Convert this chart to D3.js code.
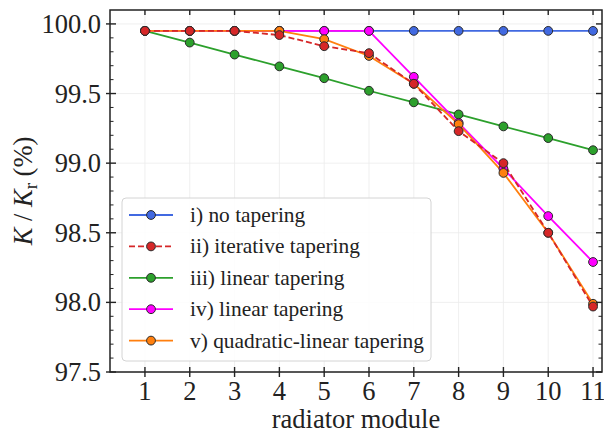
<!DOCTYPE html>
<html>
<head>
<meta charset="utf-8">
<script src="https://cdn.jsdelivr.net/npm/d3@7"></script>
<style>
  body { margin: 0; background: #fff; }
</style>
</head>
<body>
<div id="chart"></div>
<script>
// modules along the radiator
const modules = [1, 2, 3, 4, 5, 6, 7, 8, 9, 10, 11];

// K / Kr in percent
const noTaper        = [99.95, 99.95, 99.95, 99.95, 99.95, 99.95, 99.95, 99.95, 99.95, 99.95, 99.95];
const iterativeTaper = [99.95, 99.95, 99.95, 99.92, 99.84, 99.79, 99.57, 99.23, 99.00, 98.50, 97.97];
const linearTaper3   = [99.95, 99.866, 99.78, 99.695, 99.61, 99.52, 99.437, 99.35, 99.264, 99.18, 99.093];
const linearTaper4   = [99.95, 99.95, 99.95, 99.95, 99.95, 99.95, 99.62, 99.29, 98.96, 98.62, 98.29];
const quadLinTaper   = [99.95, 99.95, 99.95, 99.95, 99.89, 99.77, 99.57, 99.28, 98.93, 98.50, 97.99];

const seriesNames  = ["i) no tapering", "ii) iterative tapering", "iii) linear tapering", "iv) linear tapering", "v) quadratic-linear tapering"];
const seriesColors = ["#4169e1", "#d62728", "#2ca02c", "#ff00ff", "#ff7f0e"];
const seriesDash   = [null, "6,3", null, null, null];
const seriesValues = [noTaper, iterativeTaper, linearTaper3, linearTaper4, quadLinTaper];

const xTicks = modules;
const yTicks = [97.5, 98.0, 98.5, 99.0, 99.5, 100.0];

const FONT = "Liberation Serif";

let margin = {top: 10, right: 2, bottom: 63, left: 110};
let width = 604 - margin.left - margin.right;
let height = 435 - margin.top - margin.bottom;

let svg = d3.select("#chart").append("svg")
    .attr("width", 604)
    .attr("height", 435)
    .append("g")
    .attr("transform", "translate(" + margin.left + "," + margin.top + ")");

let x = d3.scaleLinear().domain([0.22, 11.2]).range([0, width]);
let y = d3.scaleLinear().domain([97.5, 100.1]).range([height, 0]);

// grid
svg.append("g")
    .selectAll("line")
    .data(xTicks)
    .enter().append("line")
    .attr("x1", d => x(d)).attr("x2", d => x(d))
    .attr("y1", 0).attr("y2", height)
    .attr("stroke", "#ebebeb").attr("stroke-width", 0.8);

svg.append("g")
    .selectAll("line")
    .data(yTicks)
    .enter().append("line")
    .attr("x1", 0).attr("x2", width)
    .attr("y1", d => y(d)).attr("y2", d => y(d))
    .attr("stroke", "#ebebeb").attr("stroke-width", 0.8);

// series, red drawn last as in the figure
let order = [0, 2, 3, 4, 1];
let line = d3.line().x(d => x(d.m)).y(d => y(d.v));

order.forEach(i => {
    let pts = modules.map((m, j) => ({m: m, v: seriesValues[i][j]}));
    svg.append("path")
        .datum(pts)
        .attr("d", line)
        .attr("fill", "none")
        .attr("stroke", seriesColors[i])
        .attr("stroke-width", 1.8)
        .attr("stroke-dasharray", seriesDash[i]);
});

order.forEach(i => {
    let pts = modules.map((m, j) => ({m: m, v: seriesValues[i][j]}));
    svg.append("g")
        .selectAll("circle")
        .data(pts)
        .enter().append("circle")
        .attr("cx", d => x(d.m))
        .attr("cy", d => y(d.v))
        .attr("r", 4.4)
        .attr("fill", seriesColors[i])
        .attr("stroke", "#2a2a2a")
        .attr("stroke-width", 1);
});

// legend
let lg = svg.append("g").attr("transform", "translate(12,188)");
lg.append("rect")
    .attr("width", 309).attr("height", 163)
    .attr("rx", 4)
    .attr("fill", "#fff").attr("fill-opacity", 0.85)
    .attr("stroke", "#d4d4d4");

seriesNames.forEach((name, i) => {
    let row = lg.append("g").attr("transform", "translate(0," + (17 + i * 31.4) + ")");
    row.append("line")
        .attr("x1", 7).attr("x2", 51)
        .attr("stroke", seriesColors[i])
        .attr("stroke-width", 1.8)
        .attr("stroke-dasharray", seriesDash[i]);
    row.append("circle")
        .attr("cx", 29).attr("r", 4.4)
        .attr("fill", seriesColors[i])
        .attr("stroke", "#2a2a2a").attr("stroke-width", 1);
    row.append("text")
        .attr("x", 68).attr("dy", "0.33em")
        .style("font-family", FONT).attr("font-size", 21.4)
        .attr("fill", "#222")
        .text(name);
});

// frame
svg.append("rect")
    .attr("width", width).attr("height", height)
    .attr("fill", "none").attr("stroke", "#222").attr("stroke-width", 1.5);

// x ticks
let xg = svg.append("g");
xTicks.forEach(t => {
    xg.append("line").attr("x1", x(t)).attr("x2", x(t))
        .attr("y1", height - 5).attr("y2", height + 5)
        .attr("stroke", "#222").attr("stroke-width", 1.4);
    xg.append("line").attr("x1", x(t)).attr("x2", x(t))
        .attr("y1", 0).attr("y2", 5)
        .attr("stroke", "#222").attr("stroke-width", 1.4);
    xg.append("text").attr("x", x(t)).attr("y", height + 28)
        .attr("text-anchor", "middle")
        .style("font-family", FONT).attr("font-size", 26.5)
        .attr("fill", "#222")
        .text(t);
});

// y ticks
let yg = svg.append("g");
let minor = d3.range(97.6, 100.1, 0.1).filter(v => Math.abs(v * 2 - Math.round(v * 2)) > 0.01);
minor.forEach(t => {
    yg.append("line").attr("x1", 0).attr("x2", 3.5)
        .attr("y1", y(t)).attr("y2", y(t))
        .attr("stroke", "#222").attr("stroke-width", 1);
    yg.append("line").attr("x1", width - 3.5).attr("x2", width)
        .attr("y1", y(t)).attr("y2", y(t))
        .attr("stroke", "#222").attr("stroke-width", 1);
});
yTicks.forEach(t => {
    yg.append("line").attr("x1", -4).attr("x2", 6)
        .attr("y1", y(t)).attr("y2", y(t))
        .attr("stroke", "#222").attr("stroke-width", 1.4);
    yg.append("line").attr("x1", width - 6).attr("x2", width)
        .attr("y1", y(t)).attr("y2", y(t))
        .attr("stroke", "#222").attr("stroke-width", 1.4);
    yg.append("text").attr("x", -9).attr("y", y(t)).attr("dy", "0.34em")
        .attr("text-anchor", "end")
        .style("font-family", FONT).attr("font-size", 26.5)
        .attr("fill", "#222")
        .text(d3.format(".1f")(t));
});

// axis labels
svg.append("text")
    .attr("x", width / 2).attr("y", height + 56)
    .attr("text-anchor", "middle")
    .style("font-family", FONT).attr("font-size", 26.5)
    .attr("fill", "#222")
    .text("radiator module");

let yl = svg.append("text")
    .attr("transform", "translate(" + (-78) + "," + (height / 2) + ") rotate(-90)")
    .attr("text-anchor", "middle")
    .style("font-family", FONT).attr("font-size", 26.5)
    .attr("fill", "#222");
yl.append("tspan").style("font-style", "italic").text("K");
yl.append("tspan").text(" / ");
yl.append("tspan").style("font-style", "italic").text("K");
yl.append("tspan").attr("font-size", 19).attr("dy", 5).text("r");
yl.append("tspan").attr("dy", -5).text(" (%)");
</script>
</body>
</html>
